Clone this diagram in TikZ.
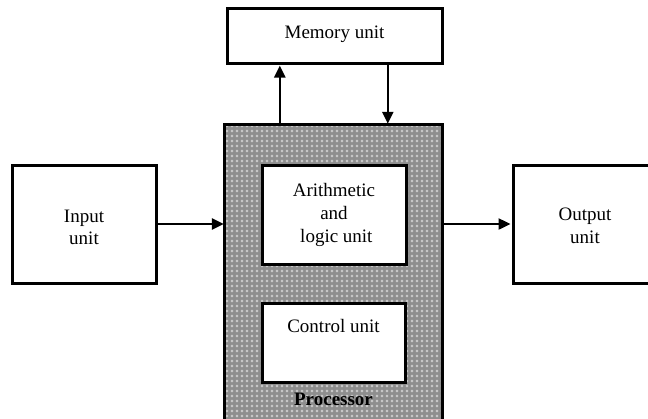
\documentclass[tikz,border=0pt]{standalone}
\usepackage{fontspec}
\setmainfont{Liberation Serif}
\usetikzlibrary{arrows.meta,patterns}

% light square dots on the grey processor body
\pgfdeclarepatternformonly{procgrid}{\pgfpointorigin}{\pgfpoint{4.5pt}{4.5pt}}{\pgfpoint{4.5pt}{4.5pt}}{%
  \pgfpathrectangle{\pgfpoint{1.1pt}{1.1pt}}{\pgfpoint{2.3pt}{2.3pt}}\pgfusepath{fill}}

\definecolor{procgray}{HTML}{8E8E8E}
\definecolor{procdot}{HTML}{C6C6C6}

% lower a line of text without changing its reported size
\newcommand{\dropline}[2]{\raisebox{-#1}[\height][\depth]{#2}}

\tikzset{
  unitbox/.style={draw=black, line width=3pt, fill=white, rectangle,
    inner sep=0pt, align=center, font=\fontsize{19}{23}\selectfont},
  flow/.style={draw=black, line width=2.4pt,
    -{Triangle[length=12pt,width=11pt]}, shorten >=1pt},
}

\begin{document}
\begin{tikzpicture}[x=1pt,y=-1pt]
  \useasboundingbox (0,0) rectangle (648,418);
  \clip (0,0) rectangle (648,418);

  % processor body (runs past the lower edge)
  \node[fill=procgray, rectangle, inner sep=0pt,
        minimum width=217pt, minimum height=310pt] (proc) at (333.5,280) {};
  \fill[pattern=procgrid, pattern color=procdot]
        (proc.south west) rectangle (proc.north east);
  \draw[line width=3pt] (proc.south west) rectangle (proc.north east);

  \node[unitbox, minimum width=215pt, minimum height=55pt] (mem) at (334.5,35.5) {\raisebox{6pt}{Memory unit}};
  \node[unitbox, minimum width=144pt, minimum height=118pt] (in) at (84,224) {\dropline{4pt}{Input}\\\dropline{3pt}{unit}};
  \node[unitbox, minimum width=144pt, minimum height=118pt] (out) at (585,224) {\dropline{2pt}{Output}\\\dropline{2pt}{unit}};
  \node[unitbox, minimum width=144pt, minimum height=99pt] (alu) at (334,214.5) {Arithmetic\\and\\\ logic unit};
  \node[unitbox, minimum width=143pt, minimum height=79pt] (ctrl) at (333.5,342.5) {};
  \node[font=\fontsize{19}{23}\selectfont, anchor=base] (ctrltext) at (333.5,332) {Control unit};
  \node[font=\fontsize{19}{23}\selectfont\bfseries, anchor=base] (proclabel) at (333.5,405) {Processor};

  % data paths
  \draw[flow] (in.east) -- (in.east -| proc.west);
  \draw[flow] (out.west -| proc.east) -- (out.west);
  \draw[flow] ([xshift=55pt]proc.north west) -- ([xshift=55pt]proc.north west |- mem.south);
  \draw[flow] ([xshift=163pt]proc.north west |- mem.south) -- ([xshift=163pt]proc.north west);
\end{tikzpicture}
\end{document}
